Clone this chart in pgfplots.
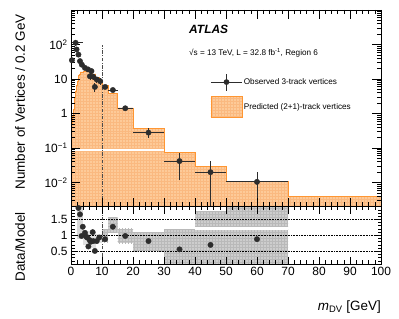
\documentclass[border=0pt]{standalone}
\usepackage{pgfplots}
\pgfplotsset{compat=1.18}
\usepackage{fontspec}
\setmainfont{Liberation Sans}
\usetikzlibrary{patterns}

\definecolor{orfill}{RGB}{253,202,152}
\definecolor{orline}{RGB}{255,150,50}
\definecolor{orpat}{RGB}{250,185,128}
\definecolor{dgray}{RGB}{45,45,45}
\definecolor{bandgray}{RGB}{205,205,205}
\definecolor{bandpat}{RGB}{185,185,185}

\pgfplotstableread{
x     y       exm   exp   eym     eyp
0.3   35      0.1   0.1   6       6
1.5   112     1.5   2.3   20      20
1.8   72      0.2   0.2   8       8
2.4   51      0.2   0.2   6       6
2.9   33      0.2   0.2   5       5
3.5   26      0.3   0.3   4       4
4.5   21      0.3   0.3   3       3
5.5   19      0.3   0.3   3       3
6.1   12      0.3   0.3   2.5     2.5
6.6   17      0.3   0.3   3       3
7.2   11.6    0.3   0.3   2.5     2.5
7.7   5.9     0.3   0.3   1.8     1.8
8.3   9.7     0.3   0.3   2       2
9.4   8.7     0.3   0.3   2       2
11    5.9     1     1     0.8     0.8
13.5  4.8     1.5   1.5   0.7     0.7
17.5  1.42    2.5   2.5   0.2     0.2
25    0.28    5     5     0.09    0.09
35    0.042   5     5     0.03    0.03
45    0.020   5     5     0.0195  0.021
60    0.0105  10    10    0.0101  0.010
}\datatab

\pgfplotstableread{
x     r
2.4   1.86
2.9   1.66
3.4   0.98
3.8   1.27
4.5   1.08
5.0   0.95
5.3   0.93
5.6   0.65
6.0   0.85
6.4   0.80
7.0   1.10
7.2   0.82
7.7   0.51
8.3   0.82
9.1   0.93
11    0.88
13.5  1.27
17.5  0.98
25    0.82
35    0.56
45    0.70
60    0.88
}\ratiotab

\begin{document}
\begin{tikzpicture}
\path[use as bounding box] (0bp,0bp) rectangle (399bp,319bp);

\begin{axis}[
  at={(71bp,112.3bp)}, anchor=south west, scale only axis,
  width=310bp, height=196.7bp,
  xmin=0, xmax=100, ymode=log, ymin=0.002, ymax=1000,
  xtick={0,10,...,100}, minor x tick num=4, xticklabels={},
  ytick={0.01,0.1,1,10,100},
  yticklabels={10\textsuperscript{−2},10\textsuperscript{−1},1,10,10\textsuperscript{2}},
  minor ytick={0.002,0.003,0.004,0.005,0.006,0.007,0.008,0.009,
    0.02,0.03,0.04,0.05,0.06,0.07,0.08,0.09,
    0.2,0.3,0.4,0.5,0.6,0.7,0.8,0.9,
    2,3,4,5,6,7,8,9,20,30,40,50,60,70,80,90,200,300,400,500,600,700,800,900},
  tick align=inside, major tick length=9bp, minor tick length=4.5bp,
  tick style={black, line width=0.6pt},
  axis line style={line width=0.9pt},
  tick label style={font=\fontsize{12}{14}\selectfont},
  /pgf/number format/assume math mode=true,
  axis on top,
  legend style={at={(axis description cs:0.44,0.69)}, anchor=north west,
    draw=none, fill=none, font=\fontsize{8.2}{9.5}\selectfont,
    row sep=5bp, nodes={inner sep=1.5bp}},
  legend cell align=left,
]
\addlegendimage{legend image code/.code={
  \draw[dgray, line width=0.8pt] (0bp,0bp) -- (31bp,0bp);
  \draw[dgray, line width=0.8pt] (15.5bp,-8.5bp) -- (15.5bp,8.5bp);
  \fill[dgray] (15.5bp,0bp) circle (2.6bp);}}
\addlegendentry{Observed 3-track vertices}
\addlegendimage{legend image code/.code={
  \draw[orline, line width=0.8pt, fill=orfill, postaction={pattern=grid, pattern color=orpat}]
    (0bp,-10.5bp) rectangle (31bp,10.5bp);}}
\addlegendentry{Predicted (2+1)-track vertices}

% prediction histogram
\addplot[const plot, draw=orline, line width=0.8pt, fill=orfill,
  postaction={pattern=grid, pattern color=orpat}, forget plot] coordinates {
  (0,0.002) (0,0.3) (0.25,0.5) (0.5,0.8) (0.75,1.3) (1,2) (1.25,3) (1.5,4.5)
  (1.75,6.5) (2,8.5) (2.25,10.5) (2.5,12.5) (2.75,14) (3,16) (4,17) (5,16.5)
  (6,15.5) (7,14) (8,11) (9,9) (10,6.7) (12,3.8) (15,1.45) (20,0.36)
  (30,0.076) (40,0.0285) (50,0.0105) (70,0.0039) (100,0.0039) (100,0.002)};
\addplot[white, line width=1.8bp, forget plot] coordinates {(0.3,0.087) (30,0.087)};
\addplot[gray!60!black, line width=0.7pt, dash pattern=on 3.5pt off 1.5pt on 0.8pt off 1.5pt, forget plot]
  coordinates {(10,0.002) (10,100)};
% data
\addplot[only marks, mark=*, mark size=2.7bp, color=dgray, forget plot,
  error bars/.cd, x dir=both, y dir=both, x explicit, y explicit,
  error bar style={line width=0.8pt, dgray}, error mark=none]
  table[x=x, y=y, x error plus=exp, x error minus=exm, y error plus=eyp, y error minus=eym] {\datatab};
\node[anchor=west, font=\bfseries\itshape\fontsize{12}{14}\selectfont] at (axis description cs:0.37,0.903) {ATLAS};
\node[anchor=west, font=\fontsize{8.2}{10}\selectfont] at (axis description cs:0.37,0.781) {√s = 13 TeV, L = 32.8 fb\textsuperscript{-1}, Region 6};
\end{axis}

\begin{axis}[
  at={(71bp,55bp)}, anchor=south west, scale only axis,
  width=310bp, height=57.3bp,
  xmin=0, xmax=100, ymin=0.1, ymax=1.9,
  xtick={0,10,...,100}, minor x tick num=4,
  ytick={0.5,1,1.5}, minor ytick={0.2,0.3,0.4,0.6,0.7,0.8,0.9,1.1,1.2,1.3,1.4,1.6,1.7,1.8},
  tick align=inside, major tick length=7bp, minor tick length=3.5bp,
  tick style={black, line width=0.6pt},
  axis line style={line width=0.9pt},
  tick label style={font=\fontsize{12}{14}\selectfont},
  /pgf/number format/assume math mode=true,
  axis on top,
]
\addplot[fill=bandgray!75, draw=none] coordinates {(2,0.9)(4,0.9)(4,1.9)(2,1.9)} -- cycle;
\addplot[fill=bandgray!60, draw=none] coordinates {(4,0.7)(6,0.7)(6,1.15)(4,1.15)} -- cycle;
\addplot[fill=bandgray!60, draw=none] coordinates {(6,0.6)(8,0.6)(8,1.1)(6,1.1)} -- cycle;
\addplot[fill=bandgray!60, draw=none] coordinates {(8,0.75)(10,0.75)(10,1.05)(8,1.05)} -- cycle;
\addplot[fill=bandgray, draw=none, postaction={pattern=grid, pattern color=bandpat}] coordinates {(10,0.78)(12,0.78)(12,1.18)(10,1.18)} -- cycle;
\addplot[fill=bandgray, draw=none, postaction={pattern=grid, pattern color=bandpat}] coordinates {(12,1.1)(15,1.1)(15,1.55)(12,1.55)} -- cycle;
\addplot[fill=bandgray, draw=none, postaction={pattern=grid, pattern color=bandpat}] coordinates {(15,0.75)(20,0.75)(20,1.2)(15,1.2)} -- cycle;
\addplot[fill=bandgray, draw=none, postaction={pattern=grid, pattern color=bandpat}] coordinates {(20,0.5)(30,0.5)(30,1.1)(20,1.1)} -- cycle;
\addplot[fill=bandgray, draw=none, postaction={pattern=grid, pattern color=bandpat}] coordinates {(30,0.1)(40,0.1)(40,1.17)(30,1.17)} -- cycle;
\addplot[fill=bandgray, draw=none, postaction={pattern=grid, pattern color=bandpat}] coordinates {(40,0.1)(50,0.1)(50,1.76)(40,1.76)} -- cycle;
\addplot[fill=bandgray, draw=none, postaction={pattern=grid, pattern color=bandpat}] coordinates {(50,0.1)(70,0.1)(70,1.9)(50,1.9)} -- cycle;
\addplot[white, line width=3bp] coordinates {(40,1.22) (70,1.22)};
\addplot[black, line width=0.6pt, densely dotted] coordinates {(0,0.5) (100,0.5)};
\addplot[black, line width=0.6pt, densely dotted] coordinates {(0,1) (100,1)};
\addplot[black, line width=0.6pt, densely dotted] coordinates {(0,1.5) (100,1.5)};
\addplot[gray!60!black, line width=0.7pt, dash pattern=on 3.5pt off 1.5pt on 0.8pt off 1.5pt]
  coordinates {(10,0.1) (10,1.9)};
\addplot[only marks, mark=*, mark size=2.7bp, color=dgray] table[x=x, y=r] {\ratiotab};
\end{axis}

\node[rotate=90, anchor=east, font=\fontsize{13.5}{16}\selectfont] at (20bp,308bp) {Number of Vertices / 0.2 GeV};
\node[rotate=90, anchor=east, font=\fontsize{13.5}{16}\selectfont] at (20bp,110bp) {Data/Model};
\node[anchor=base east, font=\fontsize{13.5}{16}\selectfont, inner sep=0pt] at (381bp,9bp) {\textit{m}\textsubscript{DV} [GeV]};
\end{tikzpicture}
\end{document}
